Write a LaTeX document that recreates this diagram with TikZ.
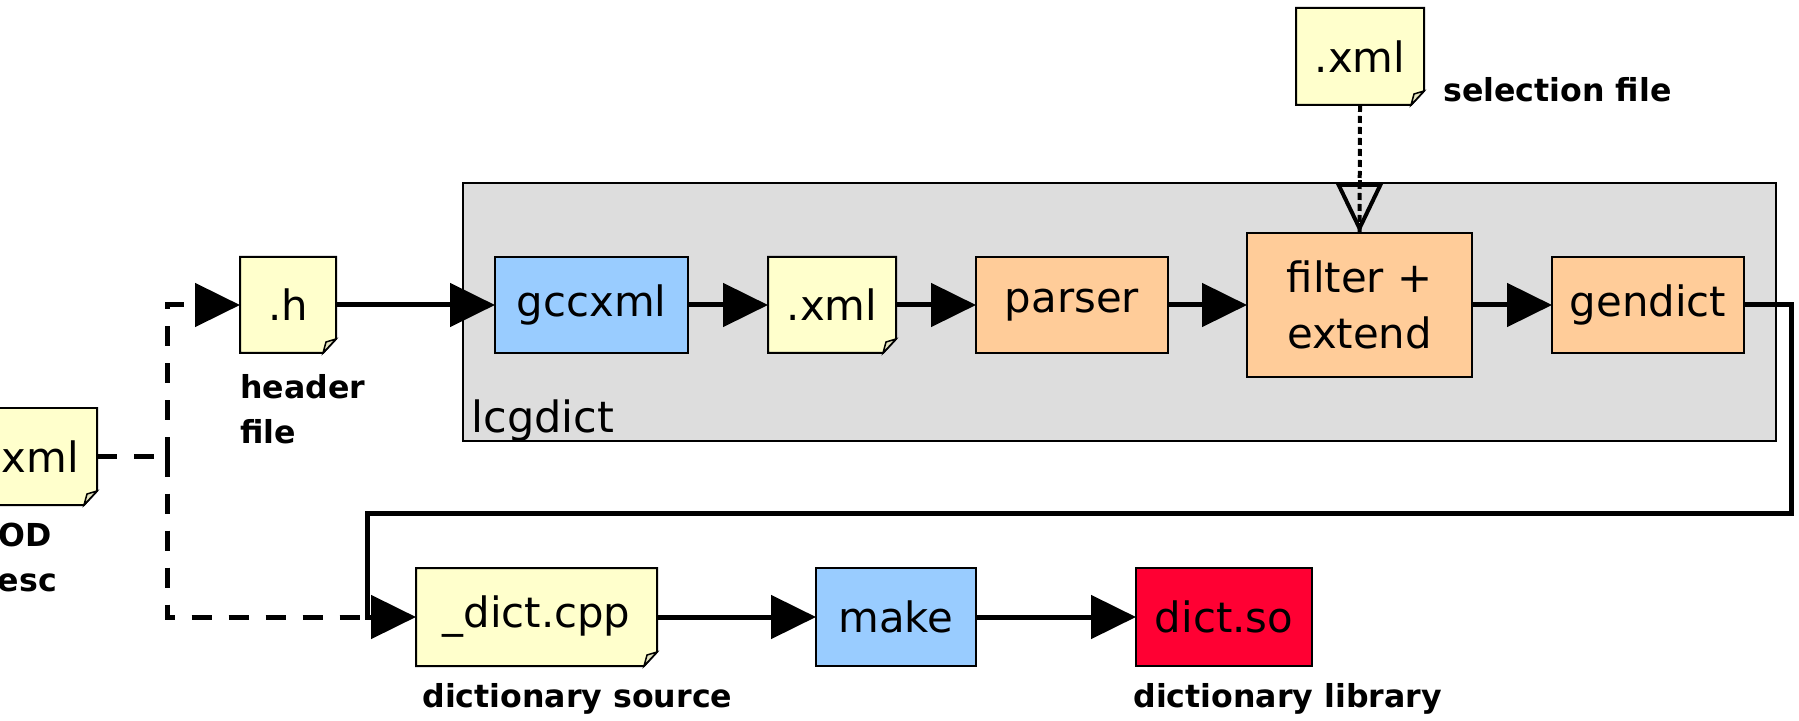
\documentclass[tikz,border=0pt]{standalone}
\usepackage{fontspec}
\setmainfont{DejaVu Sans}
\usepackage{tikz}
\usetikzlibrary{positioning, calc}
\usetikzlibrary{arrows.meta}
\usetikzlibrary{backgrounds}

\definecolor{notecol}{HTML}{FFFFCC}
\definecolor{toolcol}{HTML}{99CCFF}
\definecolor{proccol}{HTML}{FFCC99}
\definecolor{libcol}{HTML}{FF0033}
\definecolor{framecol}{HTML}{DDDDDD}
\definecolor{foldcol}{HTML}{E4E4C0}

% extra layer so the paper sheets sit between the frame and the text
\pgfdeclarelayer{paper}
\pgfsetlayers{background,paper,main}

\tikzset{
    bigtip/.tip = {Triangle[length=0.9cm, width=0.86cm]},
    blk/.style = {draw, line width=0.04cm, inner sep=0, outer sep=0, minimum height=1.92cm,
        align=center, font=\fontsize{23.8}{32.3}\selectfont},
    toolblk/.style = {blk, fill=toolcol},
    procblk/.style = {blk, fill=proccol},
    libblk/.style = {blk, fill=libcol},
    docblk/.style = {blk, draw=none},
    lbl/.style = {inner sep=0, align=left, font=\fontsize{18}{25.5}\selectfont\bfseries},
    flow/.style = {line width=0.1cm, -bigtip},
    dashflow/.style = {line width=0.1cm, dash pattern=on 0.4cm off 0.34cm},
    dotflow/.style = {line width=0.08cm, dash pattern=on 0.14cm off 0.08cm}
}

\begin{document}
\begin{tikzpicture}
                \useasboundingbox (0,0) rectangle (35.98,14.4);
                \clip (0,0) rectangle (35.98,14.4);
                % lcgdict frame
                \begin{pgfonlayer}{background}
                    \draw[fill=framecol, line width=0.04cm] (9.26,5.58) rectangle (35.52,10.74);
                \end{pgfonlayer}
                \node[anchor=base west, inner sep=0, font=\fontsize{24.5}{28}\selectfont] (lcglbl) at (9.42,5.76) {lcgdict};
                % first row
                \node[docblk, minimum width=1.92cm] (hdr) at (5.76,8.30) {.h};
                \node[toolblk, minimum width=3.86cm] (gcc) at (11.83,8.30) {gccxml};
                \node[docblk, minimum width=2.56cm] (xmlmid) at (16.64,8.30) {.xml};
                \node[procblk, minimum width=3.84cm] (parser) at (21.44,8.30) {parser};
                \node[procblk, minimum width=4.5cm, minimum height=2.88cm] (filter) at (27.19,8.30) {filter +\\extend};
                \node[procblk, minimum width=3.84cm] (gendict) at (32.96,8.30) {gendict};
                \node[docblk, minimum width=2.56cm, minimum height=1.94cm] (selxml) at (27.2,13.27) {.xml};
                \node[docblk, minimum width=2.54cm, minimum height=1.94cm] (podxml) at (0.67,5.27) {.xml};
                % second row
                \node[docblk, minimum width=4.82cm, minimum height=1.96cm] (dictcpp) at (10.73,2.06) {\_dict.cpp};
                \node[toolblk, minimum width=3.2cm, minimum height=1.96cm] (make) at (17.92,2.06) {make};
                \node[libblk, minimum width=3.52cm, minimum height=1.96cm] (dictso) at (24.48,2.06) {dict.so};
                % captions
                \node[lbl, anchor=north west] (hdrlbl) at ([yshift=-0.42cm]hdr.south west) {header\\file};
                \node[lbl, anchor=north west] (podlbl) at ([xshift=0.1cm, yshift=-0.36cm]podxml.south west) {POD\\desc};
                \node[lbl, anchor=base west] (sellbl) at (28.86,12.36) {selection file};
                \node[lbl, anchor=base west] (srclbl) at (8.44,0.26) {dictionary source};
                \node[lbl, anchor=base west] (liblbl) at (22.66,0.26) {dictionary library};
                % sheets with a folded corner
                \begin{pgfonlayer}{paper}
                    \foreach \d in {hdr,xmlmid,selxml,podxml,dictcpp}{
                        \filldraw[fill=notecol, line width=0.04cm]
                            (\d.north west) -- (\d.north east) -- ([yshift=0.28cm]\d.south east)
                            -- ([xshift=-0.26cm]\d.south east) -- (\d.south west) -- cycle;
                        \filldraw[fill=foldcol, line width=0.03cm]
                            ([yshift=0.28cm]\d.south east) -- ([xshift=-0.26cm]\d.south east)
                            -- ([xshift=-0.2cm, yshift=0.22cm]\d.south east) -- cycle;
                    }
                \end{pgfonlayer}
                % main chain
                \draw[flow] (hdr.east) -- (gcc.west);
                \draw[flow] (gcc.east) -- (xmlmid.west);
                \draw[flow] (xmlmid.east) -- (parser.west);
                \draw[flow] (parser.east) -- (filter.west);
                \draw[flow] (filter.east) -- (gendict.west);
                \draw[flow] (dictcpp.east) -- (make.west);
                \draw[flow] (make.east) -- (dictso.west);
                % gendict output back down to the second row
                \coordinate (turnR) at (35.82,4.14);
                \coordinate (turnL) at (7.34,4.14);
                \draw[flow] (gendict.east) -| (turnR) -- (turnL) |- (dictcpp.west);
                % POD description feeds both
                \coordinate (split) at (3.34,5.27);
                \draw[dashflow] (podxml.east) -- (split);
                \draw[dashflow, -bigtip] (split) |- (hdr.west);
                \draw[dashflow] (split) |- (turnL |- dictcpp.west);
                % selection file
                \draw[dotflow] (selxml.south) -- (filter.north);
                \draw[line width=0.08cm, -{Triangle[open, length=1cm, width=0.94cm]}] ([yshift=1.05cm]filter.north) -- (filter.north);
\end{tikzpicture}
\end{document}
